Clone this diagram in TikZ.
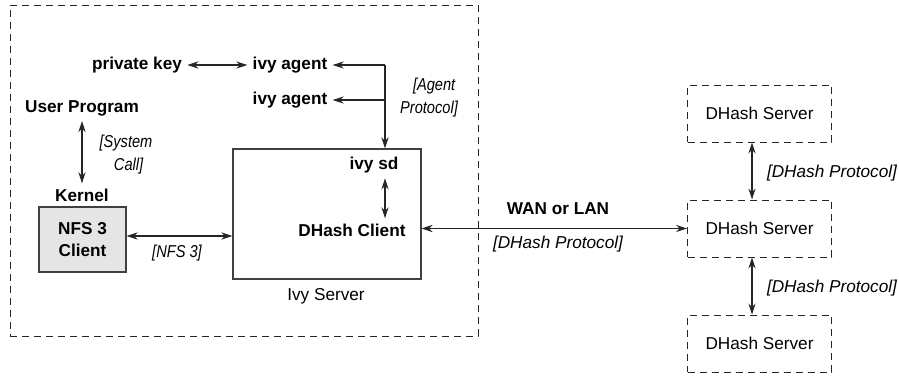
\documentclass[tikz,border=0pt]{standalone}
\usepackage{fontspec}
\setmainfont{Liberation Sans}
\newfontfamily\narrowfont{Liberation Sans}[FakeStretch=0.85]
\usetikzlibrary{arrows.meta,fit}
\begin{document}
\begin{tikzpicture}[x=0.5pt,y=-0.5pt,
  every node/.style={inner sep=2.5pt,font=\fontsize{8.6}{11}\selectfont},
  bt/.style={font=\fontsize{8.6}{11}\selectfont\bfseries},
  it/.style={font=\fontsize{8.6}{11}\selectfont\itshape},
  nit/.style={font=\fontsize{8.6}{11.5}\selectfont\narrowfont\itshape},
  ln/.style={draw=black!85,line width=0.6pt},
  arr/.style={ln,-{Stealth[length=5.5pt,width=3.6pt]}},
  darr/.style={ln,{Stealth[length=5.5pt,width=3.6pt]}-{Stealth[length=5.5pt,width=3.6pt]}},
  dashbox/.style={draw=black!85,line width=0.5pt,dash pattern=on 3.5pt off 2.5pt},
  solidbox/.style={draw=black!75,line width=0.6pt}]
\useasboundingbox (0,0) rectangle (899,376);
% outer dashed region
\coordinate (o1) at (10,5);
\coordinate (o2) at (478,336);
\node[dashbox,fit=(o1)(o2),inner sep=0pt] (outer) {};
% Ivy server box
\coordinate (i1) at (233,149);
\coordinate (i2) at (421,279);
\node[solidbox,fit=(i1)(i2),inner sep=0pt] (ivy) {};
\node at (326,296) (ivylbl) {Ivy Server};
\node[bt] at (374,165) (sd) {ivy sd};
\node[bt] at (352,230) (dc) {DHash Client};
% agents
\node[bt] at (137,65) (pk) {private key};
\node[bt] at (290,65) (ag1) {ivy agent};
\node[bt] at (290,100) (ag2) {ivy agent};
\node[nit,align=center] at (429,98) (agp) {\hspace*{0.6em}[Agent\\Protocol]};
% user program / kernel
\node[bt] at (82,108) (up) {User Program};
\node[nit,align=center] at (126,155) (sc) {[System\\\hspace*{0.3em}Call]};
\node[bt] at (82,195) (kern) {Kernel};
\node[solidbox,fill=black!10,bt,align=center,minimum width=43.5pt,minimum height=32.5pt] at (82.5,239.5) (nfs) {NFS 3\\Client};
\node[nit] at (177,253) (nfslbl) {[NFS 3]};
% DHash servers
\node[dashbox,minimum width=72pt,minimum height=28.5pt] at (759.5,113.5) (ds1) {DHash Server};
\node[dashbox,minimum width=72pt,minimum height=28.5pt] at (759.5,228.5) (ds2) {DHash Server};
\node[dashbox,minimum width=72pt,minimum height=28.5pt] at (759.5,343.5) (ds3) {DHash Server};
\node[it] at (832,173) (p1) {[DHash Protocol]};
\node[it] at (832,288) (p2) {[DHash Protocol]};
\node[bt] at (558,209) (wan) {WAN or LAN};
\node[it] at (558,244) (p0) {[DHash Protocol]};
% connectors
\coordinate (jx) at (385,0);
\coordinate (vx) at (752,0);
\coordinate (ny) at (0,236);
\draw[darr] (pk.east) -- (ag1.west);
\draw[ln] (ag1.east -| jx) -- (ag2.east -| jx);
\draw[arr] (ag1.east -| jx) -- (ag1.east);
\draw[arr] (ag2.east -| jx) -- (ag2.east);
\draw[arr] (ag2.east -| jx) -- (ivy.north -| jx);
\draw[darr] (sd.south -| jx) -- (dc.north -| jx);
\draw[darr] (up.south) -- (kern.north);
\draw[darr] (nfs.east |- ny) -- (ivy.west |- ny);
\draw[darr] (ds2.west -| ivy.east) -- (ds2.west);
\draw[darr] (ds1.south -| vx) -- (ds2.north -| vx);
\draw[darr] (ds2.south -| vx) -- (ds3.north -| vx);
\end{tikzpicture}
\end{document}
